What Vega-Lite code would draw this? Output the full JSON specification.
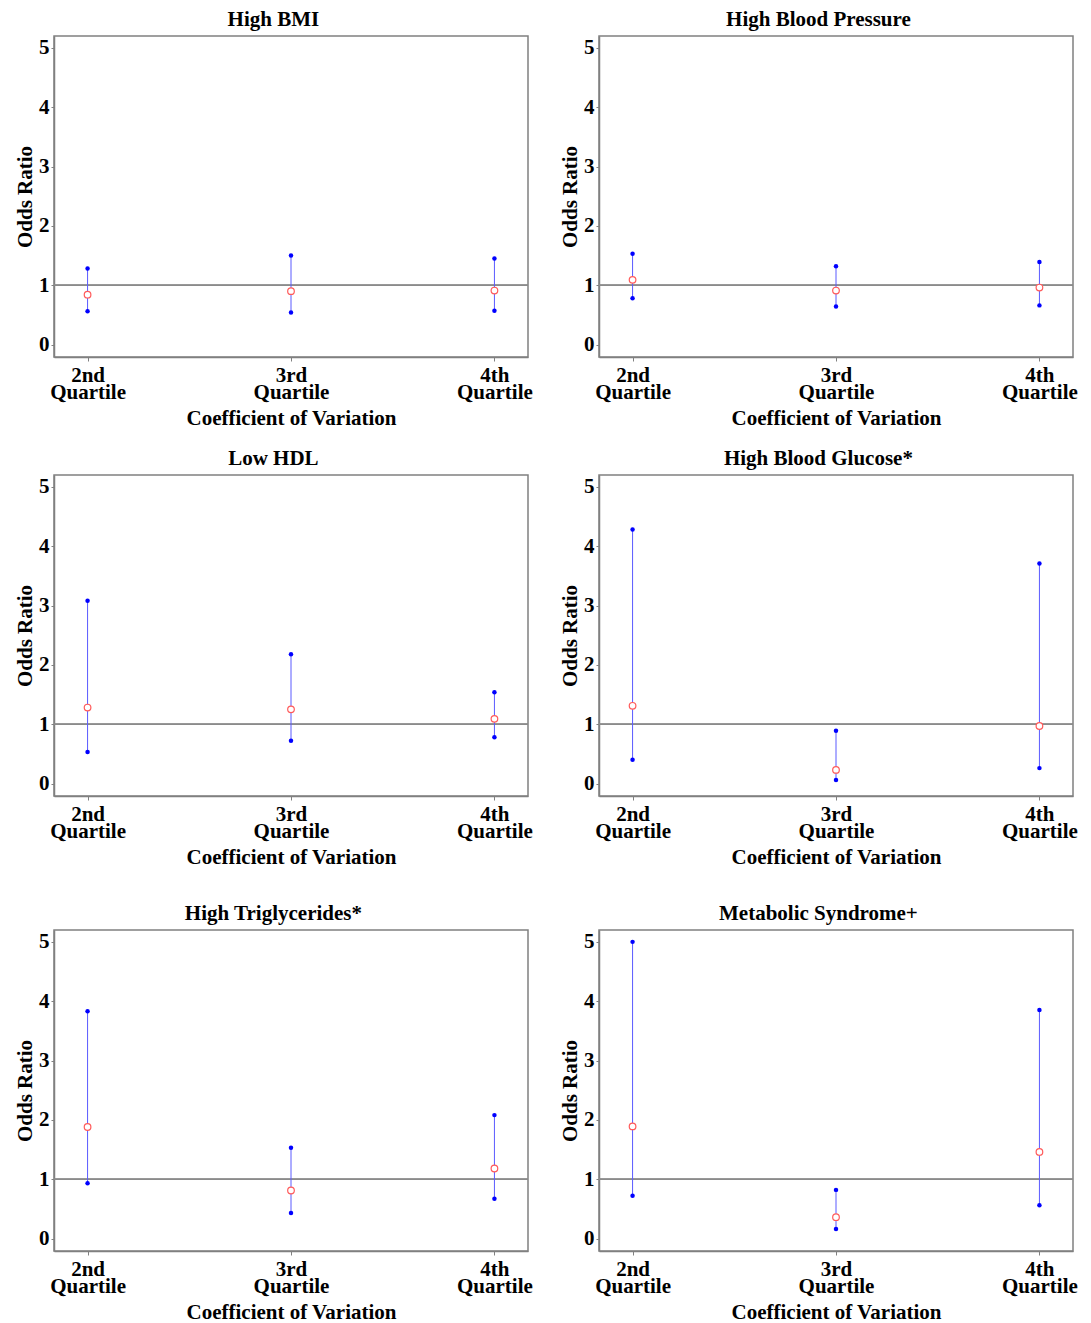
{
  "$schema": "https://vega.github.io/schema/vega-lite/v6.json",
  "padding": {"left": 13, "top": 8, "right": 5, "bottom": 5},
  "data": {"values": [
    {"panel": "High BMI", "quartile": "2nd Quartile", "oddsratio": 0.84, "lower": 0.56, "upper": 1.28},
    {"panel": "High BMI", "quartile": "3rd Quartile", "oddsratio": 0.90, "lower": 0.54, "upper": 1.50},
    {"panel": "High BMI", "quartile": "4th Quartile", "oddsratio": 0.91, "lower": 0.57, "upper": 1.45},
    {"panel": "High Blood Pressure", "quartile": "2nd Quartile", "oddsratio": 1.09, "lower": 0.78, "upper": 1.53},
    {"panel": "High Blood Pressure", "quartile": "3rd Quartile", "oddsratio": 0.91, "lower": 0.64, "upper": 1.32},
    {"panel": "High Blood Pressure", "quartile": "4th Quartile", "oddsratio": 0.96, "lower": 0.66, "upper": 1.39},
    {"panel": "Low HDL", "quartile": "2nd Quartile", "oddsratio": 1.28, "lower": 0.53, "upper": 3.08},
    {"panel": "Low HDL", "quartile": "3rd Quartile", "oddsratio": 1.25, "lower": 0.72, "upper": 2.18},
    {"panel": "Low HDL", "quartile": "4th Quartile", "oddsratio": 1.09, "lower": 0.78, "upper": 1.54},
    {"panel": "High Blood Glucose*", "quartile": "2nd Quartile", "oddsratio": 1.31, "lower": 0.40, "upper": 4.28},
    {"panel": "High Blood Glucose*", "quartile": "3rd Quartile", "oddsratio": 0.23, "lower": 0.06, "upper": 0.89},
    {"panel": "High Blood Glucose*", "quartile": "4th Quartile", "oddsratio": 0.97, "lower": 0.26, "upper": 3.71},
    {"panel": "High Triglycerides*", "quartile": "2nd Quartile", "oddsratio": 1.88, "lower": 0.93, "upper": 3.83},
    {"panel": "High Triglycerides*", "quartile": "3rd Quartile", "oddsratio": 0.81, "lower": 0.43, "upper": 1.53},
    {"panel": "High Triglycerides*", "quartile": "4th Quartile", "oddsratio": 1.18, "lower": 0.67, "upper": 2.08},
    {"panel": "Metabolic Syndrome+", "quartile": "2nd Quartile", "oddsratio": 1.89, "lower": 0.72, "upper": 5.00},
    {"panel": "Metabolic Syndrome+", "quartile": "3rd Quartile", "oddsratio": 0.36, "lower": 0.16, "upper": 0.82},
    {"panel": "Metabolic Syndrome+", "quartile": "4th Quartile", "oddsratio": 1.46, "lower": 0.56, "upper": 3.85}
  ]},
  "spacing": 34,
  "vconcat": [
    {"spacing": 18, "vconcat": [
      {"spacing": 24, "hconcat": [
        {"title": {"text": "High BMI"}, "width": 474, "height": 321,
         "transform": [{"filter": "datum.panel === 'High BMI'"}],
         "layer": [
          {"mark": {"type": "rule", "color": "#8a8a8a", "strokeWidth": 1.2}, "encoding": {"y": {"datum": 1, "type": "quantitative", "scale": {"domain": [-0.21, 5.2], "nice": false, "zero": false}, "axis": {"title": "Odds Ratio", "values": [0,0.5,1,1.5,2,2.5,3,3.5,4,4.5,5], "labelExpr": "datum.value % 1 ? '' : '' + datum.value", "tickSize": 3, "labelPadding": 2, "titlePadding": 3, "labelOverlap": false}}}},
          {"mark": {"type": "rule", "color": "#5a5aff", "strokeWidth": 1}, "encoding": {"x": {"field": "quartile", "type": "ordinal", "scale": {"type": "point", "padding": 0.165, "domain": ["2nd Quartile","3rd Quartile","4th Quartile"]}, "axis": {"title": "Coefficient of Variation", "labelAngle": 0, "labelExpr": "split(datum.label, ' ')", "labelLineHeight": 17, "tickSize": 4, "labelPadding": 3, "titlePadding": 5}}, "y": {"field": "lower", "type": "quantitative", "scale": {"domain": [-0.21, 5.2], "nice": false, "zero": false}}, "y2": {"field": "upper"}}},
          {"transform": [{"fold": ["lower", "upper"], "as": ["bound", "ci"]}], "mark": {"type": "point", "filled": true, "color": "#0000ff", "size": 20, "opacity": 1}, "encoding": {"x": {"field": "quartile", "type": "ordinal", "scale": {"type": "point", "padding": 0.165, "domain": ["2nd Quartile","3rd Quartile","4th Quartile"]}}, "y": {"field": "ci", "type": "quantitative", "scale": {"domain": [-0.21, 5.2], "nice": false, "zero": false}}}},
          {"mark": {"type": "point", "shape": "circle", "filled": false, "fill": "white", "fillOpacity": 1, "stroke": "#ff5a5a", "strokeWidth": 1.2, "size": 44, "opacity": 1}, "encoding": {"x": {"field": "quartile", "type": "ordinal", "scale": {"type": "point", "padding": 0.165, "domain": ["2nd Quartile","3rd Quartile","4th Quartile"]}}, "y": {"field": "oddsratio", "type": "quantitative", "scale": {"domain": [-0.21, 5.2], "nice": false, "zero": false}}}}
         ]},
        {"title": {"text": "High Blood Pressure"}, "width": 474, "height": 321,
         "transform": [{"filter": "datum.panel === 'High Blood Pressure'"}],
         "layer": [
          {"mark": {"type": "rule", "color": "#8a8a8a", "strokeWidth": 1.2}, "encoding": {"y": {"datum": 1, "type": "quantitative", "scale": {"domain": [-0.21, 5.2], "nice": false, "zero": false}, "axis": {"title": "Odds Ratio", "values": [0,0.5,1,1.5,2,2.5,3,3.5,4,4.5,5], "labelExpr": "datum.value % 1 ? '' : '' + datum.value", "tickSize": 3, "labelPadding": 2, "titlePadding": 3, "labelOverlap": false}}}},
          {"mark": {"type": "rule", "color": "#5a5aff", "strokeWidth": 1}, "encoding": {"x": {"field": "quartile", "type": "ordinal", "scale": {"type": "point", "padding": 0.165, "domain": ["2nd Quartile","3rd Quartile","4th Quartile"]}, "axis": {"title": "Coefficient of Variation", "labelAngle": 0, "labelExpr": "split(datum.label, ' ')", "labelLineHeight": 17, "tickSize": 4, "labelPadding": 3, "titlePadding": 5}}, "y": {"field": "lower", "type": "quantitative", "scale": {"domain": [-0.21, 5.2], "nice": false, "zero": false}}, "y2": {"field": "upper"}}},
          {"transform": [{"fold": ["lower", "upper"], "as": ["bound", "ci"]}], "mark": {"type": "point", "filled": true, "color": "#0000ff", "size": 20, "opacity": 1}, "encoding": {"x": {"field": "quartile", "type": "ordinal", "scale": {"type": "point", "padding": 0.165, "domain": ["2nd Quartile","3rd Quartile","4th Quartile"]}}, "y": {"field": "ci", "type": "quantitative", "scale": {"domain": [-0.21, 5.2], "nice": false, "zero": false}}}},
          {"mark": {"type": "point", "shape": "circle", "filled": false, "fill": "white", "fillOpacity": 1, "stroke": "#ff5a5a", "strokeWidth": 1.2, "size": 44, "opacity": 1}, "encoding": {"x": {"field": "quartile", "type": "ordinal", "scale": {"type": "point", "padding": 0.165, "domain": ["2nd Quartile","3rd Quartile","4th Quartile"]}}, "y": {"field": "oddsratio", "type": "quantitative", "scale": {"domain": [-0.21, 5.2], "nice": false, "zero": false}}}}
         ]}
      ]},
      {"spacing": 24, "hconcat": [
        {"title": {"text": "Low HDL"}, "width": 474, "height": 321,
         "transform": [{"filter": "datum.panel === 'Low HDL'"}],
         "layer": [
          {"mark": {"type": "rule", "color": "#8a8a8a", "strokeWidth": 1.2}, "encoding": {"y": {"datum": 1, "type": "quantitative", "scale": {"domain": [-0.21, 5.2], "nice": false, "zero": false}, "axis": {"title": "Odds Ratio", "values": [0,0.5,1,1.5,2,2.5,3,3.5,4,4.5,5], "labelExpr": "datum.value % 1 ? '' : '' + datum.value", "tickSize": 3, "labelPadding": 2, "titlePadding": 3, "labelOverlap": false}}}},
          {"mark": {"type": "rule", "color": "#5a5aff", "strokeWidth": 1}, "encoding": {"x": {"field": "quartile", "type": "ordinal", "scale": {"type": "point", "padding": 0.165, "domain": ["2nd Quartile","3rd Quartile","4th Quartile"]}, "axis": {"title": "Coefficient of Variation", "labelAngle": 0, "labelExpr": "split(datum.label, ' ')", "labelLineHeight": 17, "tickSize": 4, "labelPadding": 3, "titlePadding": 5}}, "y": {"field": "lower", "type": "quantitative", "scale": {"domain": [-0.21, 5.2], "nice": false, "zero": false}}, "y2": {"field": "upper"}}},
          {"transform": [{"fold": ["lower", "upper"], "as": ["bound", "ci"]}], "mark": {"type": "point", "filled": true, "color": "#0000ff", "size": 20, "opacity": 1}, "encoding": {"x": {"field": "quartile", "type": "ordinal", "scale": {"type": "point", "padding": 0.165, "domain": ["2nd Quartile","3rd Quartile","4th Quartile"]}}, "y": {"field": "ci", "type": "quantitative", "scale": {"domain": [-0.21, 5.2], "nice": false, "zero": false}}}},
          {"mark": {"type": "point", "shape": "circle", "filled": false, "fill": "white", "fillOpacity": 1, "stroke": "#ff5a5a", "strokeWidth": 1.2, "size": 44, "opacity": 1}, "encoding": {"x": {"field": "quartile", "type": "ordinal", "scale": {"type": "point", "padding": 0.165, "domain": ["2nd Quartile","3rd Quartile","4th Quartile"]}}, "y": {"field": "oddsratio", "type": "quantitative", "scale": {"domain": [-0.21, 5.2], "nice": false, "zero": false}}}}
         ]},
        {"title": {"text": "High Blood Glucose*"}, "width": 474, "height": 321,
         "transform": [{"filter": "datum.panel === 'High Blood Glucose*'"}],
         "layer": [
          {"mark": {"type": "rule", "color": "#8a8a8a", "strokeWidth": 1.2}, "encoding": {"y": {"datum": 1, "type": "quantitative", "scale": {"domain": [-0.21, 5.2], "nice": false, "zero": false}, "axis": {"title": "Odds Ratio", "values": [0,0.5,1,1.5,2,2.5,3,3.5,4,4.5,5], "labelExpr": "datum.value % 1 ? '' : '' + datum.value", "tickSize": 3, "labelPadding": 2, "titlePadding": 3, "labelOverlap": false}}}},
          {"mark": {"type": "rule", "color": "#5a5aff", "strokeWidth": 1}, "encoding": {"x": {"field": "quartile", "type": "ordinal", "scale": {"type": "point", "padding": 0.165, "domain": ["2nd Quartile","3rd Quartile","4th Quartile"]}, "axis": {"title": "Coefficient of Variation", "labelAngle": 0, "labelExpr": "split(datum.label, ' ')", "labelLineHeight": 17, "tickSize": 4, "labelPadding": 3, "titlePadding": 5}}, "y": {"field": "lower", "type": "quantitative", "scale": {"domain": [-0.21, 5.2], "nice": false, "zero": false}}, "y2": {"field": "upper"}}},
          {"transform": [{"fold": ["lower", "upper"], "as": ["bound", "ci"]}], "mark": {"type": "point", "filled": true, "color": "#0000ff", "size": 20, "opacity": 1}, "encoding": {"x": {"field": "quartile", "type": "ordinal", "scale": {"type": "point", "padding": 0.165, "domain": ["2nd Quartile","3rd Quartile","4th Quartile"]}}, "y": {"field": "ci", "type": "quantitative", "scale": {"domain": [-0.21, 5.2], "nice": false, "zero": false}}}},
          {"mark": {"type": "point", "shape": "circle", "filled": false, "fill": "white", "fillOpacity": 1, "stroke": "#ff5a5a", "strokeWidth": 1.2, "size": 44, "opacity": 1}, "encoding": {"x": {"field": "quartile", "type": "ordinal", "scale": {"type": "point", "padding": 0.165, "domain": ["2nd Quartile","3rd Quartile","4th Quartile"]}}, "y": {"field": "oddsratio", "type": "quantitative", "scale": {"domain": [-0.21, 5.2], "nice": false, "zero": false}}}}
         ]}
      ]}
    ]},
    {"spacing": 24, "hconcat": [
      {"title": {"text": "High Triglycerides*"}, "width": 474, "height": 321,
       "transform": [{"filter": "datum.panel === 'High Triglycerides*'"}],
       "layer": [
        {"mark": {"type": "rule", "color": "#8a8a8a", "strokeWidth": 1.2}, "encoding": {"y": {"datum": 1, "type": "quantitative", "scale": {"domain": [-0.21, 5.2], "nice": false, "zero": false}, "axis": {"title": "Odds Ratio", "values": [0,0.5,1,1.5,2,2.5,3,3.5,4,4.5,5], "labelExpr": "datum.value % 1 ? '' : '' + datum.value", "tickSize": 3, "labelPadding": 2, "titlePadding": 3, "labelOverlap": false}}}},
        {"mark": {"type": "rule", "color": "#5a5aff", "strokeWidth": 1}, "encoding": {"x": {"field": "quartile", "type": "ordinal", "scale": {"type": "point", "padding": 0.165, "domain": ["2nd Quartile","3rd Quartile","4th Quartile"]}, "axis": {"title": "Coefficient of Variation", "labelAngle": 0, "labelExpr": "split(datum.label, ' ')", "labelLineHeight": 17, "tickSize": 4, "labelPadding": 3, "titlePadding": 5}}, "y": {"field": "lower", "type": "quantitative", "scale": {"domain": [-0.21, 5.2], "nice": false, "zero": false}}, "y2": {"field": "upper"}}},
        {"transform": [{"fold": ["lower", "upper"], "as": ["bound", "ci"]}], "mark": {"type": "point", "filled": true, "color": "#0000ff", "size": 20, "opacity": 1}, "encoding": {"x": {"field": "quartile", "type": "ordinal", "scale": {"type": "point", "padding": 0.165, "domain": ["2nd Quartile","3rd Quartile","4th Quartile"]}}, "y": {"field": "ci", "type": "quantitative", "scale": {"domain": [-0.21, 5.2], "nice": false, "zero": false}}}},
        {"mark": {"type": "point", "shape": "circle", "filled": false, "fill": "white", "fillOpacity": 1, "stroke": "#ff5a5a", "strokeWidth": 1.2, "size": 44, "opacity": 1}, "encoding": {"x": {"field": "quartile", "type": "ordinal", "scale": {"type": "point", "padding": 0.165, "domain": ["2nd Quartile","3rd Quartile","4th Quartile"]}}, "y": {"field": "oddsratio", "type": "quantitative", "scale": {"domain": [-0.21, 5.2], "nice": false, "zero": false}}}}
       ]},
      {"title": {"text": "Metabolic Syndrome+"}, "width": 474, "height": 321,
       "transform": [{"filter": "datum.panel === 'Metabolic Syndrome+'"}],
       "layer": [
        {"mark": {"type": "rule", "color": "#8a8a8a", "strokeWidth": 1.2}, "encoding": {"y": {"datum": 1, "type": "quantitative", "scale": {"domain": [-0.21, 5.2], "nice": false, "zero": false}, "axis": {"title": "Odds Ratio", "values": [0,0.5,1,1.5,2,2.5,3,3.5,4,4.5,5], "labelExpr": "datum.value % 1 ? '' : '' + datum.value", "tickSize": 3, "labelPadding": 2, "titlePadding": 3, "labelOverlap": false}}}},
        {"mark": {"type": "rule", "color": "#5a5aff", "strokeWidth": 1}, "encoding": {"x": {"field": "quartile", "type": "ordinal", "scale": {"type": "point", "padding": 0.165, "domain": ["2nd Quartile","3rd Quartile","4th Quartile"]}, "axis": {"title": "Coefficient of Variation", "labelAngle": 0, "labelExpr": "split(datum.label, ' ')", "labelLineHeight": 17, "tickSize": 4, "labelPadding": 3, "titlePadding": 5}}, "y": {"field": "lower", "type": "quantitative", "scale": {"domain": [-0.21, 5.2], "nice": false, "zero": false}}, "y2": {"field": "upper"}}},
        {"transform": [{"fold": ["lower", "upper"], "as": ["bound", "ci"]}], "mark": {"type": "point", "filled": true, "color": "#0000ff", "size": 20, "opacity": 1}, "encoding": {"x": {"field": "quartile", "type": "ordinal", "scale": {"type": "point", "padding": 0.165, "domain": ["2nd Quartile","3rd Quartile","4th Quartile"]}}, "y": {"field": "ci", "type": "quantitative", "scale": {"domain": [-0.21, 5.2], "nice": false, "zero": false}}}},
        {"mark": {"type": "point", "shape": "circle", "filled": false, "fill": "white", "fillOpacity": 1, "stroke": "#ff5a5a", "strokeWidth": 1.2, "size": 44, "opacity": 1}, "encoding": {"x": {"field": "quartile", "type": "ordinal", "scale": {"type": "point", "padding": 0.165, "domain": ["2nd Quartile","3rd Quartile","4th Quartile"]}}, "y": {"field": "oddsratio", "type": "quantitative", "scale": {"domain": [-0.21, 5.2], "nice": false, "zero": false}}}}
       ]}
    ]}
  ],
  "config": {
    "background": "white",
    "view": {"stroke": "#808080", "strokeWidth": 1.5},
    "axis": {"labelFont": "Liberation Serif", "labelFontSize": 21, "labelFontWeight": "bold", "labelColor": "black", "titleFont": "Liberation Serif", "titleFontSize": 21, "titleFontWeight": "bold", "titleColor": "black", "domainColor": "#808080", "domainWidth": 1.5, "tickColor": "#808080", "grid": false},
    "title": {"font": "Liberation Serif", "fontSize": 21, "fontWeight": "bold", "color": "black", "frame": "bounds", "offset": 6}
  }
}
